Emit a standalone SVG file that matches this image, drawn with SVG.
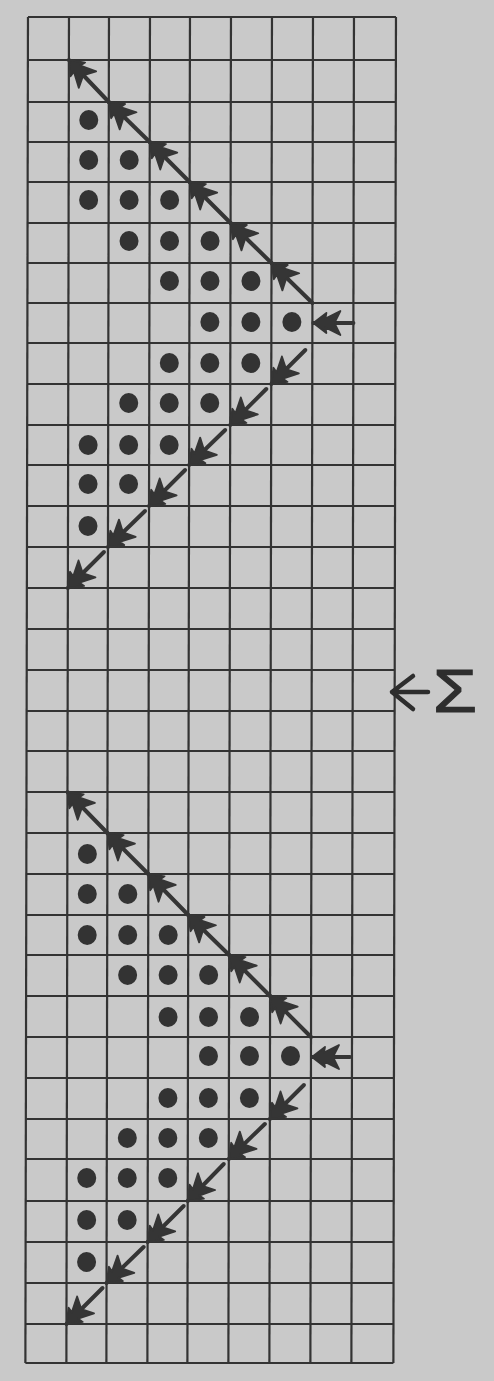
<svg xmlns="http://www.w3.org/2000/svg" width="494" height="1381" viewBox="0 0 494 1381">
<style>
.bg{fill:#c9c9c9}
.g line{stroke:#333333;stroke-width:2.2}
.d{fill:#333333}
.a{stroke:#353535;stroke-width:4;fill:none;stroke-linecap:round;marker-end:url(#h)}
.lbl{font-family:"Liberation Sans",Arial,sans-serif;font-size:62px;fill:#2e2e2e;stroke:#2e2e2e;stroke-width:1.2}
</style>
<defs>
<marker id="h" viewBox="-32 -15 36 30" markerWidth="36" markerHeight="30" refX="0" refY="0" markerUnits="userSpaceOnUse" orient="auto" overflow="visible">
<path d="M0,0 L-13,-10 L-12,-4.5 L-27,-12 L-22,-2 L-22,2 L-27,12 L-12,4.5 L-13,10 Z" fill="#353535" stroke="#353535" stroke-width="1.8" stroke-linejoin="round"/>
</marker>
</defs>
<rect class="bg" x="0" y="0" width="494" height="1381"/>
<g id="chart" transform="skewX(-0.11)">
<g id="grid" class="g">
<line x1="28" y1="17" x2="28" y2="1363"/>
<line x1="69" y1="17" x2="69" y2="1363"/>
<line x1="109" y1="17" x2="109" y2="1363"/>
<line x1="150" y1="17" x2="150" y2="1363"/>
<line x1="190" y1="17" x2="190" y2="1363"/>
<line x1="231" y1="17" x2="231" y2="1363"/>
<line x1="272" y1="17" x2="272" y2="1363"/>
<line x1="313" y1="17" x2="313" y2="1363"/>
<line x1="354" y1="17" x2="354" y2="1363"/>
<line x1="396" y1="17" x2="396" y2="1363"/>
<line x1="28" y1="17" x2="396" y2="17"/>
<line x1="28" y1="60" x2="396" y2="60"/>
<line x1="28" y1="102" x2="396" y2="102"/>
<line x1="28" y1="142" x2="396" y2="142"/>
<line x1="28" y1="182" x2="396" y2="182"/>
<line x1="28" y1="223" x2="396" y2="223"/>
<line x1="28" y1="263" x2="396" y2="263"/>
<line x1="28" y1="303" x2="396" y2="303"/>
<line x1="28" y1="343" x2="396" y2="343"/>
<line x1="28" y1="384" x2="396" y2="384"/>
<line x1="28" y1="425" x2="396" y2="425"/>
<line x1="28" y1="465" x2="396" y2="465"/>
<line x1="28" y1="506" x2="396" y2="506"/>
<line x1="28" y1="547" x2="396" y2="547"/>
<line x1="28" y1="588" x2="396" y2="588"/>
<line x1="28" y1="629" x2="396" y2="629"/>
<line x1="28" y1="670" x2="396" y2="670"/>
<line x1="28" y1="711" x2="396" y2="711"/>
<line x1="28" y1="751" x2="396" y2="751"/>
<line x1="28" y1="792" x2="396" y2="792"/>
<line x1="28" y1="833" x2="396" y2="833"/>
<line x1="28" y1="874" x2="396" y2="874"/>
<line x1="28" y1="915" x2="396" y2="915"/>
<line x1="28" y1="955" x2="396" y2="955"/>
<line x1="28" y1="996" x2="396" y2="996"/>
<line x1="28" y1="1037" x2="396" y2="1037"/>
<line x1="28" y1="1078" x2="396" y2="1078"/>
<line x1="28" y1="1119" x2="396" y2="1119"/>
<line x1="28" y1="1159" x2="396" y2="1159"/>
<line x1="28" y1="1201" x2="396" y2="1201"/>
<line x1="28" y1="1242" x2="396" y2="1242"/>
<line x1="28" y1="1283" x2="396" y2="1283"/>
<line x1="28" y1="1324" x2="396" y2="1324"/>
<line x1="28" y1="1363" x2="396" y2="1363"/>
</g>
<g id="dots-top" class="d">
<ellipse cx="89" cy="120" rx="9.5" ry="10"/>
<ellipse cx="89" cy="160" rx="9.5" ry="10"/><ellipse cx="129.5" cy="160" rx="9.5" ry="10"/>
<ellipse cx="89" cy="200" rx="9.5" ry="10"/><ellipse cx="129.5" cy="200" rx="9.5" ry="10"/><ellipse cx="170" cy="200" rx="9.5" ry="10"/>
<ellipse cx="129.5" cy="241" rx="9.5" ry="10"/><ellipse cx="170" cy="241" rx="9.5" ry="10"/><ellipse cx="210.5" cy="241" rx="9.5" ry="10"/>
<ellipse cx="170" cy="281" rx="9.5" ry="10"/><ellipse cx="210.5" cy="281" rx="9.5" ry="10"/><ellipse cx="251.5" cy="281" rx="9.5" ry="10"/>
<ellipse cx="210.5" cy="322" rx="9.5" ry="10"/><ellipse cx="251.5" cy="322" rx="9.5" ry="10"/><ellipse cx="292.5" cy="322" rx="9.5" ry="10"/>
<ellipse cx="170" cy="363" rx="9.5" ry="10"/><ellipse cx="210.5" cy="363" rx="9.5" ry="10"/><ellipse cx="251.5" cy="363" rx="9.5" ry="10"/>
<ellipse cx="129.5" cy="403" rx="9.5" ry="10"/><ellipse cx="170" cy="403" rx="9.5" ry="10"/><ellipse cx="210.5" cy="403" rx="9.5" ry="10"/>
<ellipse cx="89" cy="445" rx="9.5" ry="10"/><ellipse cx="129.5" cy="445" rx="9.5" ry="10"/><ellipse cx="170" cy="445" rx="9.5" ry="10"/>
<ellipse cx="89" cy="484" rx="9.5" ry="10"/><ellipse cx="129.5" cy="484" rx="9.5" ry="10"/>
<ellipse cx="89" cy="526" rx="9.5" ry="10"/>
</g>
<g id="dots-bottom" class="d">
<ellipse cx="89" cy="854" rx="9.5" ry="10"/>
<ellipse cx="89" cy="894" rx="9.5" ry="10"/><ellipse cx="129.5" cy="894" rx="9.5" ry="10"/>
<ellipse cx="89" cy="935" rx="9.5" ry="10"/><ellipse cx="129.5" cy="935" rx="9.5" ry="10"/><ellipse cx="170" cy="935" rx="9.5" ry="10"/>
<ellipse cx="129.5" cy="975" rx="9.5" ry="10"/><ellipse cx="170" cy="975" rx="9.5" ry="10"/><ellipse cx="210.5" cy="975" rx="9.5" ry="10"/>
<ellipse cx="170" cy="1017" rx="9.5" ry="10"/><ellipse cx="210.5" cy="1017" rx="9.5" ry="10"/><ellipse cx="251.5" cy="1017" rx="9.5" ry="10"/>
<ellipse cx="210.5" cy="1056" rx="9.5" ry="10"/><ellipse cx="251.5" cy="1056" rx="9.5" ry="10"/><ellipse cx="292.5" cy="1056" rx="9.5" ry="10"/>
<ellipse cx="170" cy="1098" rx="9.5" ry="10"/><ellipse cx="210.5" cy="1098" rx="9.5" ry="10"/><ellipse cx="251.5" cy="1098" rx="9.5" ry="10"/>
<ellipse cx="129.5" cy="1138" rx="9.5" ry="10"/><ellipse cx="170" cy="1138" rx="9.5" ry="10"/><ellipse cx="210.5" cy="1138" rx="9.5" ry="10"/>
<ellipse cx="89" cy="1178" rx="9.5" ry="10"/><ellipse cx="129.5" cy="1178" rx="9.5" ry="10"/><ellipse cx="170" cy="1178" rx="9.5" ry="10"/>
<ellipse cx="89" cy="1220" rx="9.5" ry="10"/><ellipse cx="129.5" cy="1220" rx="9.5" ry="10"/>
<ellipse cx="89" cy="1262" rx="9.5" ry="10"/>
</g>
<g id="connectors">
<path class="a" d="M313,303 L272,263"/>
<path class="a" d="M272,263 L231,223"/>
<path class="a" d="M231,223 L190,182"/>
<path class="a" d="M190,182 L150,142"/>
<path class="a" d="M150,142 L109,102"/>
<path class="a" d="M109,102 L69,60"/>
<path class="a" d="M354,323 L314,323"/>
<path class="a" d="M306,350 L272,384"/>
<path class="a" d="M267,389 L231,425"/>
<path class="a" d="M226,430 L190,465"/>
<path class="a" d="M186,470 L150,506"/>
<path class="a" d="M146,511 L109,547"/>
<path class="a" d="M105,552 L69,588"/>
<path class="a" d="M313,1037 L272,996"/>
<path class="a" d="M272,996 L231,955"/>
<path class="a" d="M231,955 L190,915"/>
<path class="a" d="M190,915 L150,874"/>
<path class="a" d="M150,874 L109,833"/>
<path class="a" d="M109,833 L69,792"/>
<path class="a" d="M352,1057 L314,1057"/>
<path class="a" d="M306,1085 L272,1119"/>
<path class="a" d="M267,1124 L231,1159"/>
<path class="a" d="M226,1164 L190,1201"/>
<path class="a" d="M186,1206 L150,1242"/>
<path class="a" d="M146,1247 L109,1283"/>
<path class="a" d="M105,1288 L69,1324"/>
</g>
</g>
<g id="label">
<path d="M413,676 L392,692 L413,709 M392,692 L428,692" fill="none" stroke="#2e2e2e" stroke-width="4.5" stroke-linecap="round" stroke-linejoin="round"/>
<text class="lbl" x="433" y="712" textLength="44" lengthAdjust="spacingAndGlyphs">Σ</text>
</g>
</svg>
